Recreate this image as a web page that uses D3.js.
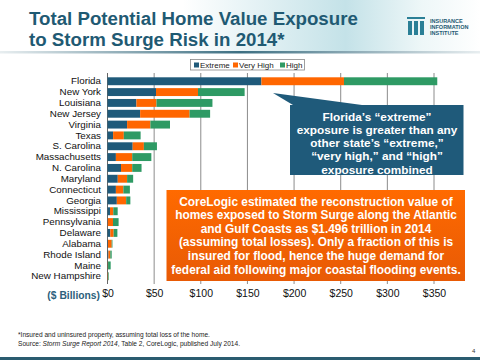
<!DOCTYPE html>
<html><head><meta charset="utf-8">
<script src="https://cdn.jsdelivr.net/npm/d3@7"></script>
<style>body{margin:0;background:#fff}svg{display:block;font-family:"Liberation Sans",Arial,sans-serif}</style>
</head><body><svg id="c" width="480" height="360"></svg>
<script>
const states = ["Florida","New York","Louisiana","New Jersey","Virginia","Texas","S. Carolina","Massachusetts","N. Carolina","Maryland","Connecticut","Georgia","Mississippi","Pennsylvania","Delaware","Alabama","Rhode Island","Maine","New Hampshire"];
const extreme  = [165, 52, 31, 35, 21, 6, 27, 9, 14.5, 11, 9, 10, 2.7, 0.3, 3, 0.5, 1, 0.3, 0.2];
const veryHigh = [88.5, 45, 21.5, 53, 25, 11.5, 12, 17.5, 12, 10, 8, 10, 3.5, 5.6, 3.6, 4, 2, 0.3, 0.4];
const high     = [100, 50, 60, 22, 21, 18, 14, 20.5, 10, 6.5, 7, 4.5, 4.7, 6, 4, 0.8, 1.5, 2.8, 0.7];
const seriesNames = ["Extreme","Very High","High"];
const colors = ["#1f5a7a","#ff6600","#2e9a64"];
const ticks = [0,50,100,150,200,250,300,350];

const svg = d3.select("#c");
const defs = svg.append("defs");
const hg = defs.append("linearGradient").attr("id","hdr");
hg.append("stop").attr("offset","0%").attr("stop-color","#ffffff");
hg.append("stop").attr("offset","38%").attr("stop-color","#ffffff");
hg.append("stop").attr("offset","72%").attr("stop-color","#c4e2e8");
hg.append("stop").attr("offset","88%").attr("stop-color","#eef7f8");
hg.append("stop").attr("offset","100%").attr("stop-color","#ffffff");
const lg = defs.append("linearGradient").attr("id","line");
lg.append("stop").attr("offset","0%").attr("stop-color","#e8eef0");
lg.append("stop").attr("offset","50%").attr("stop-color","#3d6f82");
lg.append("stop").attr("offset","100%").attr("stop-color","#e8eef0");
const og = defs.append("linearGradient").attr("id","org").attr("x1",0).attr("y1",0).attr("x2",0).attr("y2",1);
og.append("stop").attr("offset","0%").attr("stop-color","#ff6a00");
og.append("stop").attr("offset","100%").attr("stop-color","#e85a05");

svg.append("rect").attr("x",0).attr("y",0).attr("width",480).attr("height",51).attr("fill","url(#hdr)");
svg.append("rect").attr("x",0).attr("y",51).attr("width",480).attr("height",2.5).attr("fill","url(#line)");

const title = svg.append("text").attr("fill","#1f5a73").attr("font-weight","bold").attr("font-size",18.7);
title.append("tspan").attr("x",29).attr("y",25).text("Total Potential Home Value Exposure");
title.append("tspan").attr("x",29).attr("y",46).text("to Storm Surge Risk in 2014*");

// logo
const logo = svg.append("g").attr("fill","#2a7f96");
[[408,21],[414,21],[420,21]].forEach(([lx,ly])=>{
  logo.append("rect").attr("x",lx).attr("y",ly).attr("width",4).attr("height",14);
  logo.append("rect").attr("x",lx-1).attr("y",ly-4).attr("width",6).attr("height",2);
});
const lt = svg.append("g").attr("fill","#1f5a73").attr("font-weight","bold").attr("font-size",5.5);
["INSURANCE","INFORMATION","INSTITUTE"].forEach((t,i)=>lt.append("text").attr("x",430).attr("y",23+i*6).text(t));

// scales
const x = d3.scaleLinear().domain([0,350]).range([107.5,434]);
const y = d3.scaleBand().domain(states).range([76,281.5]).paddingInner(0.27).paddingOuter(0.12);

// grid
svg.append("g").selectAll("line").data(ticks).join("line")
  .attr("x1",d=>x(d)).attr("x2",d=>x(d)).attr("y1",73).attr("y2",284)
  .attr("stroke",d=>d===0?"#666":"#8c8c8c").attr("stroke-width",1);

// stacked bars
const rows = states.map((s,i)=>({state:s,Extreme:extreme[i],"Very High":veryHigh[i],High:high[i]}));
const stack = d3.stack().keys(seriesNames)(rows);
svg.append("g").selectAll("g").data(stack).join("g").attr("fill",(d,i)=>colors[i])
  .selectAll("rect").data(d=>d).join("rect")
  .attr("x",d=>x(d[0])).attr("width",d=>Math.max(0,x(d[1])-x(d[0])))
  .attr("y",d=>y(d.data.state)).attr("height",y.bandwidth());

// y labels
const yAxis = d3.axisLeft(y).tickSize(0).tickPadding(5);
const ya = svg.append("g").attr("transform","translate(106,0)").call(yAxis);
ya.select(".domain").remove();
ya.selectAll("text").attr("font-size",9.8).attr("fill","#111").attr("font-family","Liberation Sans, Arial, sans-serif");

// x labels
const xAxis = d3.axisBottom(x).tickValues(ticks).tickSize(0).tickPadding(0).tickFormat(d=>"$"+d);
const xa = svg.append("g").attr("transform","translate(0,290)").call(xAxis);
xa.select(".domain").remove();
xa.selectAll("text").attr("font-size",10.5).attr("fill","#111").attr("font-family","Liberation Sans, Arial, sans-serif");
svg.append("text").attr("x",100).attr("y",299).attr("text-anchor","end").attr("font-size",10.3)
  .attr("font-weight","bold").attr("fill","#2d5f7c").text("($ Billions)");

// legend
const leg = svg.append("g");
leg.append("rect").attr("x",190.5).attr("y",59.5).attr("width",114).attr("height",10.5).attr("fill","#fff").attr("stroke","#888").attr("stroke-width",0.8);
const legX = [194,233,280];
seriesNames.forEach((n,i)=>{
  leg.append("rect").attr("x",legX[i]).attr("y",62.5).attr("width",5).attr("height",5).attr("fill",colors[i]);
  leg.append("text").attr("x",legX[i]+6).attr("y",68).attr("font-size",8).attr("fill","#222").text(n);
});

// blue callout
svg.append("path").attr("d","M273,93 L362,105 L293,105 Z").attr("fill","#1f5a7a");
svg.append("rect").attr("x",290).attr("y",105).attr("width",173.5).attr("height",70).attr("fill","#1f5a7a");
const bt = svg.append("text").attr("fill","#fff").attr("font-weight","bold").attr("font-size",11.8).attr("text-anchor","middle");
["Florida’s “extreme”","exposure is greater than any","other state’s “extreme,”","“very high,” and “high”","exposure combined"]
  .forEach((t,i)=>bt.append("tspan").attr("x",377).attr("y",120.5+i*13.3).text(t));

// orange callout
svg.append("rect").attr("x",166.5).attr("y",190).attr("width",298.5).attr("height",91).attr("fill","url(#org)");
const ot = svg.append("text").attr("fill","#fff").attr("font-weight","bold").attr("font-size",11.9).attr("text-anchor","middle");
["CoreLogic estimated the reconstruction value of","homes exposed to Storm Surge along the Atlantic","and Gulf Coasts as $1.496 trillion in 2014","(assuming total losses).  Only a fraction of this is","insured for flood, hence the huge demand for","federal aid following major coastal flooding events."]
  .forEach((t,i)=>ot.append("tspan").attr("x",316).attr("y",205.5+i*13.6).text(t));

// footnotes
svg.append("text").attr("x",18).attr("y",337).attr("font-size",6.6).attr("fill","#222").text("*Insured and uninsured property, assuming total loss of the home.");
const src = svg.append("text").attr("x",18).attr("y",346).attr("font-size",6.6).attr("fill","#222");
src.append("tspan").text("Source: ");
src.append("tspan").attr("font-style","italic").text("Storm Surge Report 2014");
src.append("tspan").text(", Table 2, CoreLogic, published July 2014.");
svg.append("text").attr("x",472).attr("y",353).attr("font-size",6).attr("fill","#333").text("4");
svg.append("rect").attr("x",0).attr("y",357).attr("width",480).attr("height",3).attr("fill","#2a5c70");
</script></body></html>
